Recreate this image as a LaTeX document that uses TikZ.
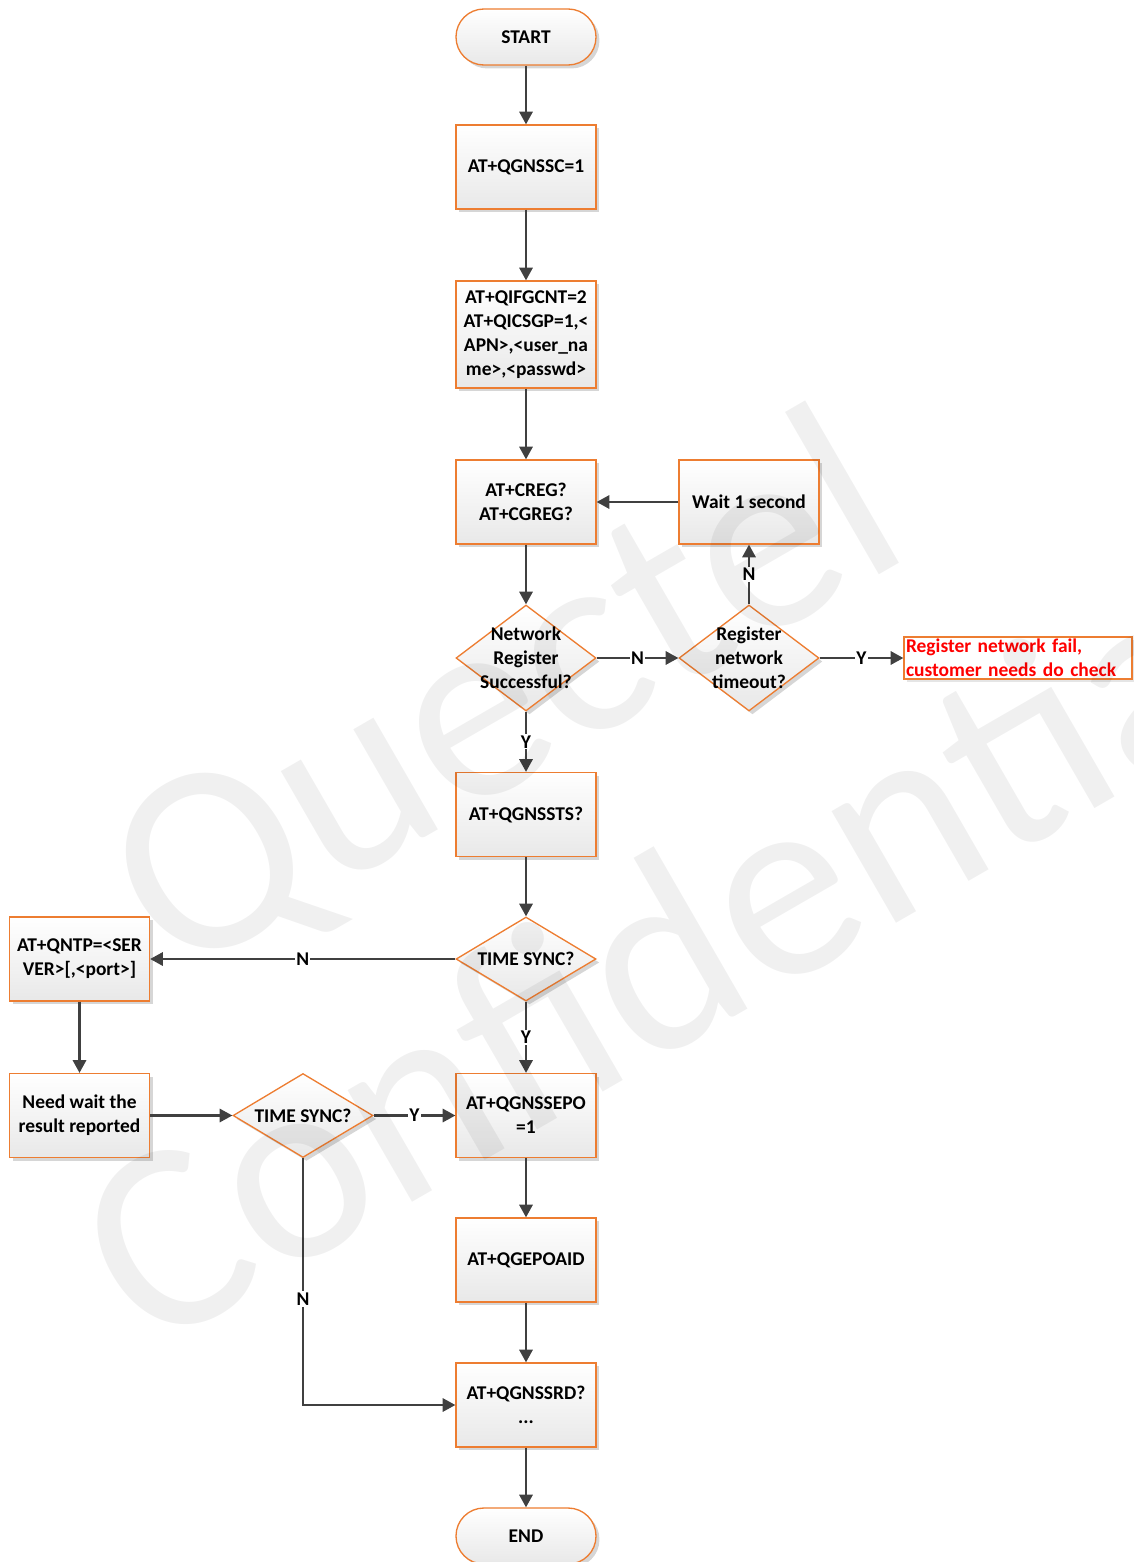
\documentclass[tikz,border=0pt]{standalone}
\usepackage{fontspec}
\setmainfont{Carlito}
\usetikzlibrary{arrows.meta,shapes.geometric,shadows}

\definecolor{edgeor}{RGB}{237,125,49}
\definecolor{linegray}{RGB}{64,64,64}

\tikzset{
  every node/.style={font=\fontsize{14.6}{18}\selectfont\bfseries},
  shadebox/.style={draw=edgeor, line width=1pt, top color=white, bottom color=black!9,
    drop shadow={shadow xshift=2.6pt, shadow yshift=-2.6pt, fill=black!16, opacity=1}},
  proc/.style={shadebox, rectangle, minimum width=105pt, minimum height=63pt,
    inner sep=2pt, align=center},
  term/.style={proc, minimum height=42pt, rounded corners=20.9pt},
  dec/.style={shadebox, diamond, minimum width=105pt, minimum height=63pt, inner sep=0pt},
  dectext/.style={align=center, inner sep=0pt},
  failbox/.style={draw=edgeor, line width=1pt, fill=white,
    drop shadow={shadow xshift=2pt, shadow yshift=-2pt, fill=black!10, opacity=1},
    minimum width=171pt, minimum height=31.5pt, text width=168pt, inner xsep=1.5pt,
    inner ysep=0pt, align=left, text=red},
  conn/.style={draw=linegray, line width=1.6pt, -{Triangle[length=9.5pt,width=10pt]}},
  lab/.style={fill=white, inner sep=1pt, text=black},
  mark text/.style={rotate=30, anchor=base west, inner sep=0pt,
    font=\fontsize{202.5}{240}\selectfont, text=black, text opacity=0.06},
}

\begin{document}
\begin{tikzpicture}[x=0.75pt, y=-0.75pt]
\useasboundingbox (0,0) rectangle (1134,1562);

% main column
\node[term] (start) at (526,37) {START};
\node[proc] (qsc) at (526,167) {AT+QGNSSC=1};
\node[proc, minimum height=80.25pt] (apn) at (526,334.5)
  {AT+QIFGCNT=2\\AT+QICSGP=1,<\\APN>,<user\_na\\me>,<passwd>};
\node[proc] (creg) at (526,502) {AT+CREG?\\AT+CGREG?};
\node[proc] (wait) at (749,502) {Wait 1 second};

\node[dec, minimum height=79.5pt] (d1) at (526,658) {};
\node[dectext] (d1t) at (d1) {Network\\Register\\Successful?};
\node[dec, minimum height=79.5pt] (d2) at (749,658) {};
\node[dectext] (d2t) at (d2) {Register\\network\\timeout?};
\node[failbox] (fail) at (1018,658) {Register network fail,\\customer needs do check};

\node[proc] (sts) at (526,814.5) {AT+QGNSSTS?};
\node[dec] (d3) at (526,959) {};
\node[dectext] (d3t) at (d3) {TIME SYNC?};
\node[proc] (ntp) at (79.5,959) {AT+QNTP=<SER\\VER>[,<port>]};
\node[proc] (need) at (79.5,1115.5) {Need wait the\\result reported};
\node[dec] (d4) at (303,1115.5) {};
\node[dectext] (d4t) at (d4) {TIME SYNC?};
\node[proc] (epo) at (526,1115.5) {AT+QGNSSEPO\\=1};
\node[proc] (aid) at (526,1260) {AT+QGEPOAID};
\node[proc] (rd) at (526,1405) {AT+QGNSSRD?\\...};
\node[term] (end) at (526,1536) {END};

% connectors
\draw[conn] (start) -- (qsc);
\draw[conn] (qsc) -- (apn);
\draw[conn] (apn) -- (creg);
\draw[conn] (creg) -- (d1);
\draw[conn] (d1) -- node[lab] {N} (d2);
\draw[conn] (d2) -- node[lab] {N} (wait);
\draw[conn] (wait) -- (creg);
\draw[conn] (d2) -- node[lab] {Y} (fail);
\draw[conn] (d1) -- node[lab] {Y} (sts);
\draw[conn] (sts) -- (d3);
\draw[conn] (d3) -- node[lab] {N} (ntp);
\draw[conn] (d3) -- node[lab] {Y} (epo);
\draw[conn] (ntp) -- (need);
\draw[conn] (need) -- (d4);
\draw[conn] (d4) -- node[lab] {Y} (epo);
\draw[conn] (d4.south) |- node[lab, pos=0.285] {N} (rd.west);
\draw[conn] (epo) -- (aid);
\draw[conn] (aid) -- (rd);
\draw[conn] (rd) -- (end);

% watermark
\node[mark text] (wm1) at (174,982) {Quectel};
\node[mark text] (wm2) at (148,1355) {Confidential};
\end{tikzpicture}
\end{document}
